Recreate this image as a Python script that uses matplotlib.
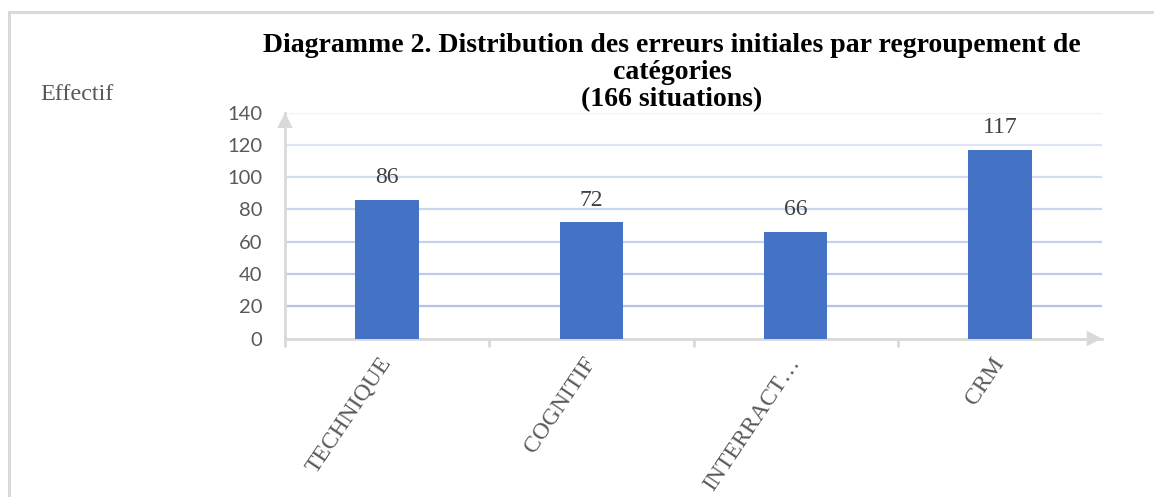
import matplotlib
matplotlib.use("Agg")
import matplotlib.pyplot as plt
import numpy as np

categories = ["TECHNIQUE", "COGNITIF", "INTERRACT…", "CRM"]
values = [86, 72, 66, 117]
yticks = [0, 20, 40, 60, 80, 100, 120, 140]
title_lines = ["Diagramme 2. Distribution des erreurs initiales par regroupement de",
               "catégories", "(166 situations)"]
ylabel = "Effectif"

W, H = 1154, 497
fig = plt.figure(figsize=(W / 100, H / 100), dpi=100)
fig.patch.set_facecolor("white")

# outer frame (left and top)
fig.add_artist(plt.Line2D([8.5 / W, 8.5 / W], [0, 1 - 12 / H], color="#D9D9D9", lw=2.2,
                          transform=fig.transFigure))
fig.add_artist(plt.Line2D([8.5 / W, 1], [1 - 12 / H, 1 - 12 / H], color="#D9D9D9", lw=2.2,
                          transform=fig.transFigure))

left, right = 285 / W, 1102 / W
bottom, top = (H - 338.5) / H, (H - 112.7) / H
ax = fig.add_axes([left, bottom, right - left, top - bottom])

x = np.arange(len(categories))
ax.set_xlim(-0.5, len(categories) - 0.5)
ax.set_ylim(0, 140)

# gridlines with fading intensity toward top
grid_colors = {20: "#B4C6E7", 40: "#BCCCEA", 60: "#C3D1EC", 80: "#CAD7EE",
               100: "#D3DDF1", 120: "#DDE4F4", 140: "#EEF1F9"}
for yv in yticks[1:]:
    ax.axhline(yv, color=grid_colors[yv], lw=1.6, zorder=1)

ax.bar(x, values, width=0.31, color="#4472C4", zorder=3)

for xi, v in zip(x, values):
    ax.annotate(str(v), (xi, v), xytext=(0, 12), textcoords="offset points",
                ha="center", va="baseline", fontsize=17, color="#404040",
                family="Liberation Serif")

for s in ["top", "right"]:
    ax.spines[s].set_visible(False)
for s in ["left", "bottom"]:
    ax.spines[s].set_color("#D9D9D9")
    ax.spines[s].set_linewidth(2)

ax.set_yticks(yticks)
ax.set_yticklabels([str(t) for t in yticks], family="Lato", fontsize=14.5, color="#595959")
ax.tick_params(axis="y", length=0, pad=16.5)

ax.set_xticks(x)
ax.set_xticklabels(categories, family="Liberation Serif", fontsize=17, color="#595959",
                   rotation=56, ha="right", va="center", rotation_mode="anchor")
ax.tick_params(axis="x", length=0, pad=15)
ax.set_xticks(np.arange(-0.5, len(categories) - 0.4, 1.0)[:-1], minor=True)
ax.tick_params(axis="x", which="minor", length=6, width=2, color="#D9D9D9", direction="out")

# arrow heads on axes
ax.annotate("", xy=(0, 1.0), xycoords="axes fraction", xytext=(0, 0.92),
            arrowprops=dict(arrowstyle="-|>,head_length=1.1,head_width=0.56",
                            color="#D9D9D9", lw=0, shrinkA=0, shrinkB=0))
ax.annotate("", xy=(1.0, 0), xycoords="axes fraction", xytext=(0.975, 0),
            arrowprops=dict(arrowstyle="-|>,head_length=1.1,head_width=0.56",
                            color="#D9D9D9", lw=0, shrinkA=0, shrinkB=0))

# title
ty = [52, 79, 106]
for line, yy in zip(title_lines, ty):
    fig.text(672 / W, 1 - yy / H, line, ha="center", va="baseline", fontsize=20,
             fontweight="bold", family="Liberation Serif", color="black")

fig.text(40 / W, 1 - 100 / H, ylabel, ha="left", va="baseline", fontsize=17.4,
         family="Liberation Serif", color="#595959")

fig.savefig("out.png", dpi=100)
